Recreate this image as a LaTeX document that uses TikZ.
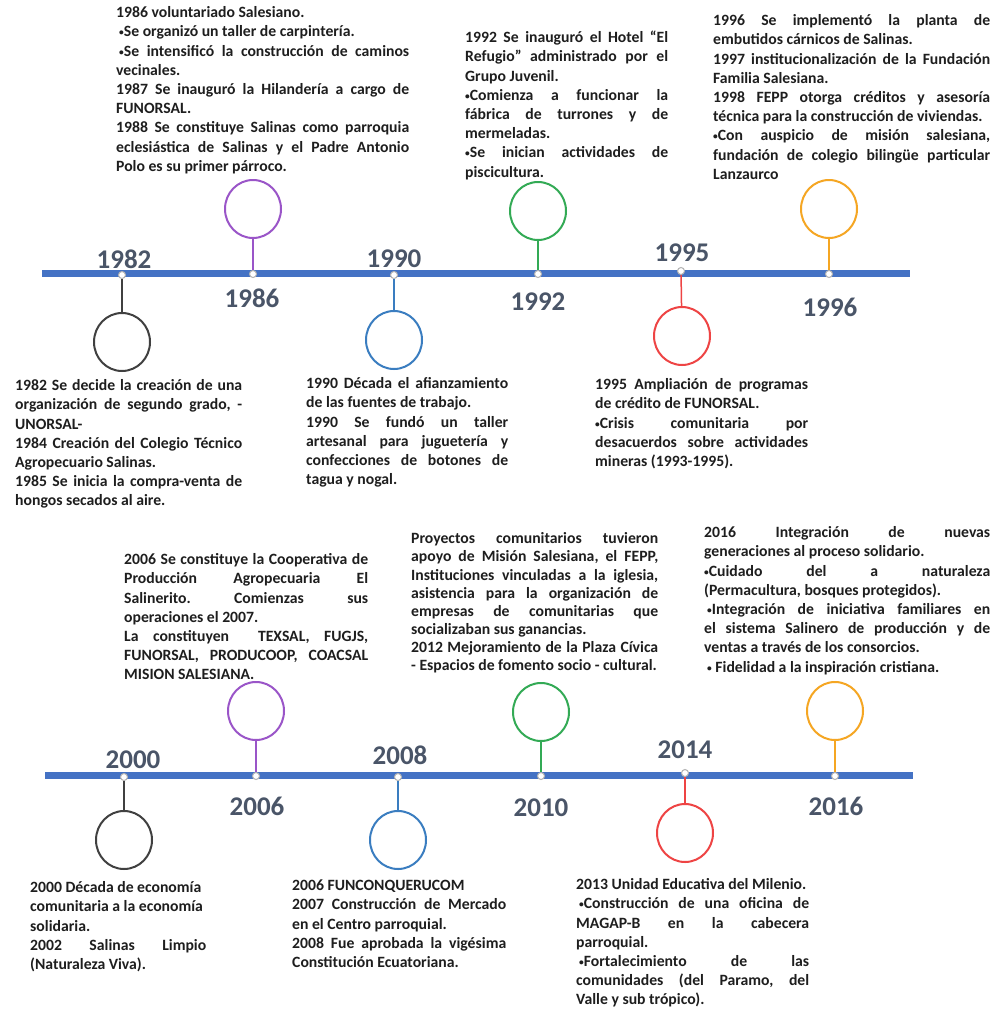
\documentclass[tikz,border=0pt]{standalone}
\usepackage{fontspec}
\setmainfont{Carlito}
\usetikzlibrary{shapes.geometric}
\definecolor{barblue}{HTML}{4472C4}
\definecolor{yearcol}{HTML}{4A5568}
\definecolor{txtcol}{HTML}{1E1E1E}
\definecolor{cgray}{HTML}{404040}
\definecolor{cpurple}{HTML}{9A55C8}
\definecolor{cblue}{HTML}{3A7DC0}
\definecolor{cgreen}{HTML}{33AA55}
\definecolor{cred}{HTML}{EE4444}
\definecolor{corange}{HTML}{F5A623}
\frenchspacing
\newlength{\tw}
\newcommand{\JL}[1]{\hbox to \tw{\frenchspacing\spaceskip=\fontdimen2\font plus 1fil\relax\strut#1}}
\newcommand{\LL}[1]{\hbox to \tw{\frenchspacing\spaceskip=0pt\relax\strut#1\hfil}}
\newcommand{\bul}{\raisebox{1pt}{\scalebox{0.6}{•}}}
\tikzset{
 bar/.style={draw=barblue, line width=7pt},
 dotn/.style={circle, draw=gray!60, fill=white, line width=1pt, inner sep=0pt, minimum size=7pt},
 ring/.style={ellipse, draw=#1, line width=2pt, minimum width=56pt, minimum height=58pt, inner sep=0pt},
 stem/.style={draw=#1, line width=1.5pt},
 yr/.style={font=\fontsize{27}{27}\selectfont\bfseries, text=yearcol, inner sep=0pt},
 txt/.style={font=\fontsize{15.7}{19.2}\selectfont\bfseries, text=txtcol, inner sep=0pt, anchor=north west, text width=#1, execute at begin node={\setlength{\tw}{#1}}},
 txtb/.style={font=\fontsize{15.7}{18.1}\selectfont\bfseries, text=txtcol, inner sep=0pt, anchor=north west, text width=#1, execute at begin node={\setlength{\tw}{#1}}},
}
\begin{document}
\begin{tikzpicture}[x=1pt,y=-1pt]
\fill[white] (0,0) rectangle (992,1009);
\useasboundingbox (0,0) rectangle (992,1009);

% ---------- top timeline ----------
\coordinate (b1L) at (42,273);
\coordinate (b1R) at (910,273);
\draw[bar] (b1L) -- (b1R);

\node[dotn] (d1982) at (122,275) {};
\node[dotn] (d1986) at (253,274) {};
\node[dotn] (d1990) at (394,275) {};
\node[dotn] (d1992) at (538,274) {};
\node[dotn] (d1995) at (681,271) {};
\node[dotn] (d1996) at (829,274) {};

\node[ring=cgray] (c1982) at (122,342) {};
\node[ring=cpurple] (c1986) at (253,209) {};
\node[ring=cblue] (c1990) at (394,340) {};
\node[ring=cgreen] (c1992) at (538,211) {};
\node[ring=cred] (c1995) at (682,336) {};
\node[ring=corange] (c1996) at (829,209) {};

\draw[stem=cgray] (d1982) -- (c1982);
\draw[stem=cpurple] (d1986) -- (c1986);
\draw[stem=cblue] (d1990) -- (c1990);
\draw[stem=cgreen] (d1992) -- (c1992);
\draw[stem=cred] (d1995) -- (c1995);
\draw[stem=corange] (d1996) -- (c1996);

\node[yr] (y1982) at (124,259) {1982};
\node[yr] (y1986) at (252,298) {1986};
\node[yr] (y1990) at (394,259) {1990};
\node[yr] (y1992) at (538,302) {1992};
\node[yr] (y1995) at (682,253) {1995};
\node[yr] (y1996) at (830,307) {1996};

\node[txt=293pt] (t1986) at (116,4) {%
\LL{1986 voluntariado Salesiano.}
\LL{\hspace*{3pt}\bul Se organizó un taller de carpintería.}
\JL{\hspace*{3pt}\bul Se intensificó la construcción de caminos}
\LL{vecinales.}
\JL{1987 Se inauguró la Hilandería a cargo de}
\LL{FUNORSAL.}
\JL{1988 Se constituye Salinas como parroquia}
\JL{eclesiástica de Salinas y el Padre Antonio}
\LL{Polo es su primer párroco.}};

\node[txt=203pt] (t1992) at (465,29) {%
\JL{1992 Se inauguró el Hotel “El}
\JL{Refugio” administrado por el}
\LL{Grupo Juvenil.}
\JL{\bul Comienza a funcionar la}
\JL{fábrica de turrones y de}
\LL{mermeladas.}
\JL{\bul Se inician actividades de}
\LL{piscicultura.}};

\node[txt=277pt] (t1996) at (713,12) {%
\JL{1996 Se implementó la planta de}
\LL{embutidos cárnicos de Salinas.}
\JL{1997 institucionalización de la Fundación}
\LL{Familia Salesiana.}
\JL{1998 FEPP otorga créditos y asesoría}
\LL{técnica para la construcción de viviendas.}
\JL{\bul Con auspicio de misión salesiana,}
\JL{fundación de colegio bilingüe particular}
\LL{Lanzaurco}};

\node[txt=227pt] (t1982) at (15,377) {%
\JL{1982 Se decide la creación de una}
\JL{organización de segundo grado, -}
\LL{UNORSAL-}
\JL{1984 Creación del Colegio Técnico}
\LL{Agropecuario Salinas.}
\JL{1985 Se inicia la compra-venta de}
\LL{hongos secados al aire.}};

\node[txt=202pt] (t1990) at (306,375) {%
\JL{1990 Década el afianzamiento}
\LL{de las fuentes de trabajo.}
\JL{1990 Se fundó un taller}
\JL{artesanal para juguetería y}
\JL{confecciones de botones de}
\LL{tagua y nogal.}};

\node[txt=213pt] (t1995) at (595,376) {%
\JL{1995 Ampliación de programas}
\LL{de crédito de FUNORSAL.}
\JL{\bul Crisis comunitaria por}
\JL{desacuerdos sobre actividades}
\LL{mineras (1993-1995).}};

% ---------- bottom timeline ----------
\coordinate (b2L) at (45,775);
\coordinate (b2R) at (913,775);
\draw[bar] (b2L) -- (b2R);

\node[dotn] (d2000) at (124,777) {};
\node[dotn] (d2006) at (256,776) {};
\node[dotn] (d2008) at (398,777) {};
\node[dotn] (d2010) at (541,776) {};
\node[dotn] (d2014) at (685,773) {};
\node[dotn] (d2016) at (835,776) {};

\node[ring=cgray] (c2000) at (124,840) {};
\node[ring=cpurple] (c2006) at (256,711) {};
\node[ring=cblue] (c2008) at (398,840) {};
\node[ring=cgreen] (c2010) at (541,712) {};
\node[ring=cred] (c2014) at (685,833) {};
\node[ring=corange] (c2016) at (835,711) {};

\draw[stem=cgray] (d2000) -- (c2000);
\draw[stem=cpurple] (d2006) -- (c2006);
\draw[stem=cblue] (d2008) -- (c2008);
\draw[stem=cgreen] (d2010) -- (c2010);
\draw[stem=cred] (d2014) -- (c2014);
\draw[stem=corange] (d2016) -- (c2016);

\node[yr] (y2000) at (133,760) {2000};
\node[yr] (y2006) at (257,806) {2006};
\node[yr] (y2008) at (400,755) {2008};
\node[yr] (y2010) at (541,808) {2010};
\node[yr] (y2014) at (685,750) {2014};
\node[yr] (y2016) at (836,806) {2016};

\node[txt=244pt] (t2006) at (124,551) {%
\JL{2006 Se constituye la Cooperativa de}
\JL{Producción Agropecuaria El}
\JL{Salinerito. Comienzas sus}
\LL{operaciones el 2007.}
\JL{La constituyen\ \ TEXSAL, FUGJS,}
\JL{FUNORSAL, PRODUCOOP, COACSAL}
\LL{MISION SALESIANA.}};

\node[txtb=247pt] (t2010) at (411,531) {%
\JL{Proyectos comunitarios tuvieron}
\JL{apoyo de Misión Salesiana, el FEPP,}
\JL{Instituciones vinculadas a la iglesia,}
\JL{asistencia para la organización de}
\JL{empresas de comunitarias que}
\LL{socializaban sus ganancias.}
\JL{2012 Mejoramiento de la Plaza Cívica}
\LL{- Espacios de fomento socio - cultural.}};

\node[txt=286pt] (t2016) at (704,524) {%
\JL{2016 Integración de nuevas}
\LL{generaciones al proceso solidario.}
\JL{\bul Cuidado del a naturaleza}
\LL{(Permacultura, bosques protegidos).}
\JL{\hspace*{3pt}\bul Integración de iniciativa familiares en}
\JL{el sistema Salinero de producción y de}
\LL{ventas a través de los consorcios.}
\LL{\hspace*{3pt}\bul\ Fidelidad a la inspiración cristiana.}};

\node[txt=176pt] (t2000) at (30,879) {%
\LL{2000 Década de economía}
\LL{comunitaria a la economía}
\LL{solidaria.}
\JL{2002 Salinas Limpio}
\LL{(Naturaleza Viva).}};

\node[txt=214pt] (t2008) at (292,877) {%
\LL{2006 FUNCONQUERUCOM}
\JL{2007 Construcción de Mercado}
\LL{en el Centro parroquial.}
\JL{2008 Fue aprobada la vigésima}
\LL{Constitución Ecuatoriana.}};

\node[txt=233pt] (t2014) at (576,876) {%
\LL{2013 Unidad Educativa del Milenio.}
\JL{\hspace*{3pt}\bul Construcción de una oficina de}
\JL{MAGAP-B en la cabecera}
\LL{parroquial.}
\JL{\hspace*{3pt}\bul Fortalecimiento de las}
\JL{comunidades (del Paramo, del}
\LL{Valle y sub trópico).}};
\end{tikzpicture}
\end{document}
